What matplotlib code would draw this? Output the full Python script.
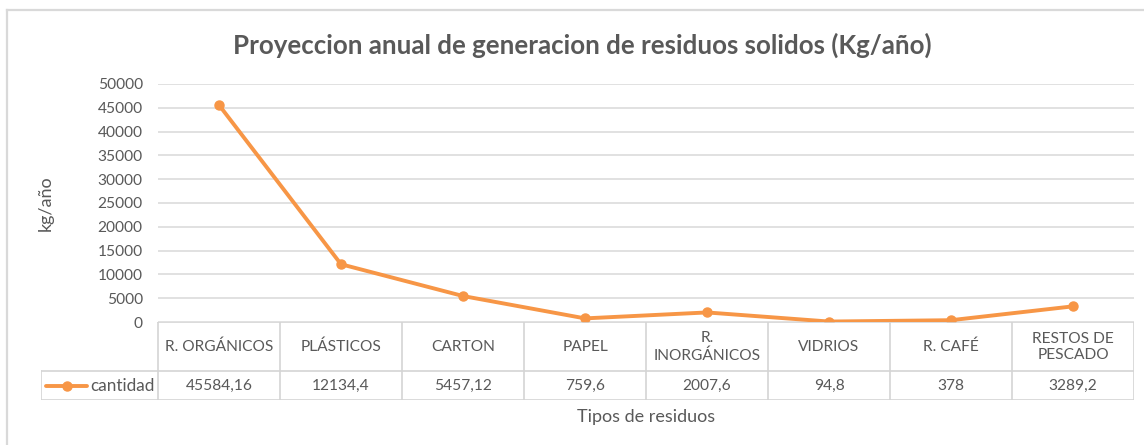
import matplotlib
matplotlib.use('Agg')
import matplotlib.pyplot as plt
from matplotlib.lines import Line2D

# ---------------- data ----------------
categories = ["R. ORGÁNICOS", "PLÁSTICOS", "CARTON", "PAPEL",
              "R.\nINORGÁNICOS", "VIDRIOS", "R. CAFÉ", "RESTOS DE\nPESCADO"]
values = [45584.16, 12134.4, 5457.12, 759.6, 2007.6, 94.8, 378, 3289.2]
value_labels = ["45584,16", "12134,4", "5457,12", "759,6",
                "2007,6", "94,8", "378", "3289,2"]
yticks = [0, 5000, 10000, 15000, 20000, 25000, 30000, 35000, 40000, 45000, 50000]
series_name = "cantidad"
title = "Proyeccion anual de generacion de residuos solidos (Kg/año)"
ylabel = "kg/año"
xlabel = "Tipos de residuos"

# ---------------- style ----------------
ORANGE = "#F79646"
TEXT = "#595959"
GRID = "#D9D9D9"
FONT = ["Lato", "DejaVu Sans"]
plt.rcParams['font.family'] = FONT
FS = 11.2
FS_AX = 13

W, H = 1144, 445
fig = plt.figure(figsize=(W / 100, H / 100), dpi=100)
fig.patch.set_facecolor("white")


def fx(x):
    return x / W


def fy(y):
    return 1 - y / H


# chart outer border (top + left)
fig.add_artist(Line2D([fx(6.5), fx(1144)], [fy(10), fy(10)], color=GRID, lw=1.6,
                      transform=fig.transFigure))
fig.add_artist(Line2D([fx(6.5), fx(6.5)], [fy(10), fy(445)], color=GRID, lw=1.6,
                      transform=fig.transFigure))

# ---------------- plot area ----------------
L, R, T, B = 158, 1134, 84, 322
n = len(values)
ax = fig.add_axes([fx(L), fy(B), (R - L) / W, (B - T) / H])
ax.plot(range(n), values, color=ORANGE, lw=2.8, marker='o', ms=6.5,
        solid_capstyle='round', solid_joinstyle='round', zorder=3)
ax.set_xlim(-0.5, n - 0.5)
ax.set_ylim(0, 50000)
ax.set_yticks(yticks)
ax.set_yticklabels([str(v) for v in yticks])
ax.tick_params(axis='y', length=0, pad=11, labelsize=FS, labelcolor=TEXT)
ax.set_xticks([])
for s in ax.spines.values():
    s.set_visible(False)
ax.grid(axis='y', color=GRID, lw=1.1)
ax.set_axisbelow(True)

# ---------------- data table ----------------
TL, TB = 41, 400
HROW = 371  # border between header and data rows
colw = (R - L) / n
xleft = -0.5 - (L - TL) / colw
tax = fig.add_axes([fx(TL), fy(TB), (R - TL) / W, (TB - B) / H])
tax.set_xlim(xleft, n - 0.5)
tax.set_ylim(TB, B)
tax.axis('off')
lc = dict(color="#D4D4D4", lw=1.2, solid_capstyle='projecting')
tax.plot([-0.5, n - 0.5], [B, B], **lc)
tax.plot([xleft, n - 0.5], [HROW, HROW], **lc)
tax.plot([xleft, n - 0.5], [TB, TB], **lc)
for k in range(n + 1):
    tax.plot([-0.5 + k, -0.5 + k], [B, TB], **lc)
tax.plot([xleft, xleft], [HROW, TB], **lc)

ymid_h = (B + HROW) / 2 + 0.5
ymid_d = (HROW + TB) / 2
for i, (c, v) in enumerate(zip(categories, value_labels)):
    tax.text(i, ymid_h, c, ha='center', va='center', fontsize=FS, color=TEXT,
             linespacing=1.25)
    tax.text(i, ymid_d, v, ha='center', va='center', fontsize=FS, color=TEXT)

# legend key in the table
lx0 = xleft + (46 - TL) / colw
lx1 = xleft + (87 - TL) / colw
tax.plot([lx0, lx1], [ymid_d, ymid_d], color=ORANGE, lw=2.8, solid_capstyle='round')
tax.plot([(lx0 + lx1) / 2], [ymid_d], color=ORANGE, marker='o', ms=6.5)
tax.text(-0.5 - 3 / colw, ymid_d, series_name, ha='right', va='center',
         fontsize=FS * 1.1, color=TEXT)

# ---------------- labels ----------------
fig.text(fx(46), fy((T + B) / 2), ylabel, rotation=90, ha='center', va='center',
         fontsize=FS_AX, color=TEXT)
fig.text(fx((L + R) / 2), fy(417), xlabel, ha='center', va='center',
         fontsize=FS_AX, color=TEXT)

t = fig.text(fx(582.5), fy(45), title, ha='center', va='center',
             fontsize=15, fontweight='bold', color=TEXT)
fig.canvas.draw()
bb = t.get_window_extent()
t.set_fontsize(15 * 701 / bb.width)

fig.savefig("out.png", dpi=100, facecolor="white")
